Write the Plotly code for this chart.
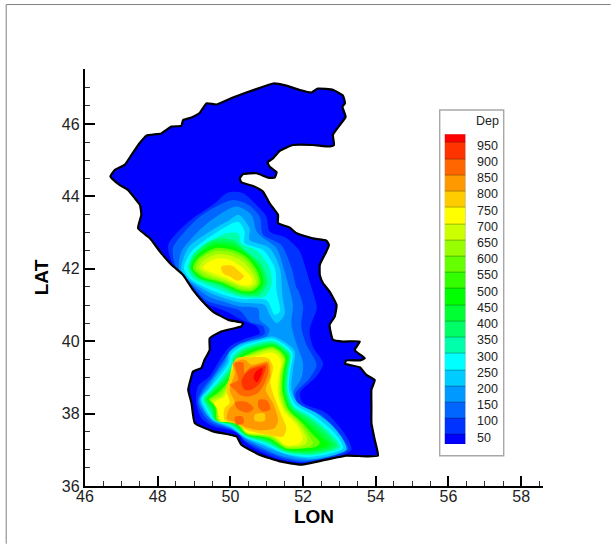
import plotly.graph_objects as go

LEGEND_LEVELS = [50, 100, 150, 200, 250, 300, 350, 400, 450, 500, 550, 600, 650, 700, 750, 800, 850, 900, 950]
BAND_EDGES = [21] + LEGEND_LEVELS + [976]
BAND_COLORS = ["#0000ff", "#0033ff", "#0066ff", "#0099ff", "#00ccff", "#00ffff", "#00ffaa", "#00ff66", "#00ff33",
               "#00ff00", "#33ff00", "#66ff00", "#99ff00", "#ccff00", "#ffff00", "#ffcc00", "#ff9900", "#ff6600",
               "#ff3300", "#ff0000"]
X_TICKS = [46, 48, 50, 52, 54, 56, 58]
Y_TICKS = [36, 38, 40, 42, 44, 46]

COAST = [(46.70,44.55),(46.82,44.73),(47.09,44.87),(47.28,45.15),(47.50,45.47),(47.69,45.68),(48.10,45.74),(48.38,45.93),(48.65,45.95),(48.70,46.11),(48.93,46.18),(49.16,46.31),(49.34,46.57),(49.62,46.54),(50.07,46.73),(50.44,46.87),(50.90,47.03),(51.18,47.12),(51.54,47.06),(51.91,46.94),(52.23,46.87),(52.41,46.98),(52.83,46.94),(53.10,46.78),(53.15,46.57),(53.08,46.48),(53.17,46.20),(53.01,45.97),(52.82,45.70),(52.85,45.42),(52.73,45.38),(52.27,45.42),(51.72,45.42),(51.36,45.26),(51.17,45.05),(51.02,44.94),(51.08,44.82),(51.27,44.67),(51.22,44.52),(51.04,44.52),(50.72,44.64),(50.35,44.62),(50.26,44.50),(50.30,44.39),(50.67,44.27),(50.90,44.13),(51.08,43.81),(51.31,43.49),(51.31,43.26),(51.63,43.14),(51.82,42.98),(52.27,42.84),(52.64,42.78),(52.71,42.66),(52.64,42.48),(52.46,42.11),(52.46,41.83),(52.55,41.60),(52.73,41.37),(52.92,41.00),(52.87,40.68),(52.73,40.45),(52.82,40.04),(53.10,39.99),(53.56,39.99),(53.42,39.76),(53.51,39.67),(53.70,39.53),(53.56,39.47),(53.19,39.47),(53.15,39.38),(53.56,39.28),(53.74,39.07),(53.97,38.93),(53.88,38.66),(53.88,38.20),(53.88,37.74),(53.97,37.28),(54.06,36.84),(53.74,36.82),(53.19,36.84),(52.64,36.73),(51.95,36.59),(51.36,36.68),(50.81,36.86),(50.30,37.14),(50.17,37.37),(49.52,37.51),(49.02,37.74),(48.93,38.29),(48.84,38.66),(48.93,39.03),(48.97,39.16),(49.20,39.26),(49.29,39.49),(49.43,39.76),(49.43,40.08),(49.75,40.27),(50.30,40.41),(50.35,40.50),(49.94,40.59),(49.52,40.82),(49.20,41.14),(48.97,41.42),(48.70,41.83),(48.38,42.11),(48.06,42.48),(47.78,42.85),(47.46,43.12),(47.55,43.49),(47.51,43.77),(47.37,43.95),(47.18,44.18),(46.95,44.32)]

D50 = [(50.03,44.13),(50.35,44.09),(50.67,43.81),(50.99,43.44),(51.08,43.03),(51.54,42.85),(51.91,42.48),(52.04,42.11),(52.18,41.65),(52.37,41.00),(52.37,40.87),(52.18,40.31),(52.27,39.85),(52.55,39.39),(52.37,39.03),(51.91,38.57),(52.00,38.29),(52.64,38.01),(53.19,37.37),(53.33,37.00),(52.92,36.79),(52.00,36.64),(51.36,36.74),(50.81,36.96),(50.39,37.23),(50.21,37.46),(49.52,37.65),(49.20,37.88),(49.06,38.29),(49.11,38.75),(49.43,39.03),(49.71,39.49),(49.98,39.85),(50.44,40.08),(50.81,40.22),(50.72,40.41),(50.30,40.59),(49.89,40.82),(49.52,40.96),(49.23,41.08),(48.72,41.79),(48.42,42.11),(48.29,42.66),(48.61,43.08),(48.97,43.40),(49.52,43.77),(49.89,44.09)]
D100 = [(50.07,43.90),(50.49,43.77),(50.81,43.44),(50.90,42.94),(51.40,42.66),(51.68,42.02),(51.82,41.47),(51.86,41.42),(52.00,40.96),(51.95,40.41),(52.09,39.90),(52.37,39.35),(52.18,38.98),(51.80,38.57),(51.86,38.24),(52.50,37.97),(53.05,37.37),(53.24,37.02),(52.87,36.84),(52.00,36.67),(51.40,36.79),(50.83,37.02),(50.39,37.26),(50.12,37.53),(49.52,37.72),(49.29,37.92),(49.10,38.32),(49.25,38.70),(49.50,39.01),(49.78,39.44),(50.03,39.76),(50.49,40.02),(50.94,40.20),(50.90,40.41),(50.53,40.54),(50.26,40.84),(49.71,41.00),(49.32,41.14),(48.77,41.74),(48.51,42.02),(48.42,42.57),(48.79,43.08),(49.16,43.44),(49.61,43.72)]
D150 = [(50.16,43.72),(50.58,43.49),(50.72,43.03),(50.90,42.85),(51.27,42.57),(51.49,41.93),(51.63,41.42),(51.72,41.00),(51.68,40.45),(51.81,39.95),(52.00,39.39),(51.95,38.98),(51.74,38.61),(51.80,38.24),(52.41,37.94),(52.96,37.42),(53.19,37.02),(52.87,36.86),(52.09,36.71),(51.43,36.82),(50.83,37.08),(50.44,37.28),(50.07,37.55),(49.57,37.76),(49.34,37.97),(49.14,38.35),(49.32,38.70),(49.54,39.01),(49.84,39.44),(49.98,39.72),(50.30,39.95),(50.99,40.13),(51.08,40.33),(50.81,40.59),(50.76,40.90),(50.26,40.96),(49.80,41.10),(49.41,41.23),(48.81,41.69),(48.59,41.97),(48.65,42.47),(49.16,43.08),(49.61,43.44)]

D200N = [(50.23,43.49),(50.53,43.12),(50.53,42.80),(51.08,42.57),(51.36,42.02),(51.43,41.28),(51.49,40.73),(51.27,40.50),(51.08,40.73),(50.94,41.00),(50.26,41.07),(49.48,41.32),(48.83,41.72),(48.65,41.97),(48.83,42.57),(49.43,43.03),(49.98,43.35)]
D250N = [(50.21,43.30),(50.39,43.03),(50.39,42.71),(50.90,42.52),(51.22,42.02),(51.27,41.37),(51.36,40.82),(51.22,40.73),(50.99,41.14),(50.26,41.17),(49.52,41.39),(48.88,41.74),(48.72,42.02),(48.93,42.48),(49.52,42.94)]
D300N = [(50.21,42.98),(50.30,42.71),(50.76,42.48),(51.08,42.02),(51.13,41.56),(50.94,41.23),(50.26,41.23),(49.61,41.46),(48.97,41.74),(48.83,42.02),(49.02,42.43),(49.89,42.98)]
D350N = [(49.52,42.80),(50.07,42.80),(50.42,42.49),(50.85,42.15),(51.01,41.60),(50.81,41.28),(50.30,41.28),(49.66,41.54),(49.05,41.77),(48.88,42.02),(48.97,42.38)]
D400N = [(49.52,42.72),(50.07,42.71),(50.46,42.43),(50.82,42.06),(50.95,41.60),(50.73,41.32),(50.30,41.32),(49.69,41.57),(49.10,41.76),(48.90,42.02),(49.02,42.31)]
D450N = [(49.52,42.66),(50.07,42.61),(50.49,42.38),(50.81,41.97),(50.90,41.60),(50.67,41.35),(50.30,41.35),(49.71,41.60),(49.16,41.74),(48.93,42.02),(49.06,42.34)]
D550N = [(49.57,42.57),(50.07,42.52),(50.46,42.31),(50.75,41.92),(50.82,41.60),(50.62,41.39),(50.30,41.39),(49.75,41.62),(49.21,41.78),(48.97,42.02),(49.11,42.29)]
D600N = [(49.57,42.49),(50.03,42.46),(50.42,42.25),(50.70,41.88),(50.76,41.60),(50.58,41.43),(50.30,41.45),(49.80,41.65),(49.29,41.81),(49.05,42.02),(49.17,42.27)]
D650N = [(49.62,42.40),(49.98,42.37),(50.37,42.18),(50.64,41.83),(50.70,41.60),(50.53,41.48),(50.30,41.51),(49.84,41.69),(49.39,41.85),(49.14,42.02),(49.25,42.22)]
D700N = [(49.66,42.29),(49.98,42.25),(50.30,42.06),(50.58,41.76),(50.60,41.60),(50.46,41.54),(50.26,41.57),(49.89,41.74),(49.52,41.88),(49.25,42.02),(49.34,42.15)]
D750N = [(49.75,42.06),(50.03,42.09),(50.26,41.91),(50.37,41.79),(50.21,41.67),(49.98,41.79),(49.80,41.88)]

D200S = [(51.17,40.13),(51.54,39.95),(51.77,39.72),(51.72,39.21),(51.68,38.66),(51.86,38.29),(52.37,38.01),(52.82,37.65),(53.10,37.28),(53.19,37.00),(52.92,36.88),(52.18,36.75),(51.54,36.86),(50.83,37.14),(50.44,37.31),(50.03,37.60),(49.52,37.80),(49.35,37.98),(49.17,38.40),(49.39,38.70),(49.60,39.01),(49.91,39.44),(49.96,39.67),(50.27,39.90),(50.73,40.04)]
D250S = [(51.17,40.07),(51.50,39.90),(51.71,39.67),(51.65,39.21),(51.61,38.66),(51.80,38.24),(52.27,37.97),(52.73,37.60),(53.01,37.28),(53.10,37.04),(52.87,36.93),(52.18,36.80),(51.54,36.89),(50.90,37.17),(50.44,37.33),(50.03,37.63),(49.54,37.82),(49.39,38.01),(49.21,38.40),(49.43,38.69),(49.66,38.98),(49.96,39.39),(50.01,39.62),(50.29,39.85),(50.73,39.99)]
D300S = [(51.17,40.01),(51.47,39.85),(51.67,39.64),(51.61,39.21),(51.58,38.66),(51.74,38.20),(52.20,37.92),(52.66,37.55),(52.93,37.26),(53.03,37.07),(52.82,36.97),(52.18,36.85),(51.54,36.92),(50.94,37.20),(50.44,37.36),(50.05,37.65),(49.56,37.82),(49.43,38.05),(49.25,38.40),(49.47,38.66),(49.71,38.93),(50.01,39.35),(50.06,39.58),(50.32,39.80),(50.75,39.95)]
D350S = [(51.17,39.96),(51.45,39.82),(51.63,39.61),(51.58,39.21),(51.54,38.66),(51.71,38.18),(52.14,37.89),(52.60,37.52),(52.87,37.23),(52.94,37.11),(52.78,37.00),(52.18,36.89),(51.54,36.95),(50.99,37.23),(50.44,37.38),(50.07,37.67),(49.58,37.82),(49.47,38.09),(49.29,38.40),(49.50,38.64),(49.76,38.92),(50.05,39.30),(50.09,39.53),(50.35,39.76),(50.77,39.90)]
D400S = [(51.17,39.92),(51.43,39.78),(51.60,39.59),(51.54,39.21),(51.50,38.66),(51.67,38.16),(52.07,37.85),(52.50,37.48),(52.78,37.20),(52.84,37.13),(52.71,37.04),(52.18,36.94),(51.54,36.98),(51.02,37.26),(50.44,37.40),(50.09,37.69),(49.60,37.82),(49.50,38.13),(49.33,38.40),(49.52,38.62),(49.80,38.88),(50.07,39.26),(50.13,39.49),(50.37,39.72),(50.79,39.86)]
D450S = [(51.17,39.88),(51.41,39.75),(51.56,39.56),(51.50,39.21),(51.47,38.66),(51.63,38.14),(52.02,37.81),(52.41,37.44),(52.66,37.20),(52.71,37.15),(52.60,37.08),(52.18,36.98),(51.54,37.00),(51.04,37.29),(50.44,37.42),(50.12,37.71),(49.62,37.82),(49.54,38.15),(49.37,38.40),(49.54,38.60),(49.83,38.84),(50.10,39.21),(50.17,39.46),(50.39,39.67),(50.81,39.83)]
D550S = [(51.17,39.85),(51.39,39.72),(51.52,39.52),(51.47,39.21),(51.43,38.66),(51.60,38.12),(51.95,37.78),(52.27,37.42),(52.46,37.20),(52.37,37.09),(52.09,37.04),(51.54,37.03),(51.08,37.31),(50.44,37.44),(50.15,37.73),(49.64,37.81),(49.58,38.18),(49.41,38.40),(49.62,38.55),(49.87,38.80),(50.12,39.17),(50.21,39.43),(50.42,39.62),(50.83,39.78)]
D600S = [(51.17,39.81),(51.37,39.69),(51.49,39.49),(51.43,39.17),(51.40,38.61),(51.56,38.11),(51.91,37.76),(52.18,37.37),(52.27,37.19),(52.14,37.08),(51.54,37.06),(51.11,37.34),(50.44,37.45),(50.18,37.75),(49.66,37.80),(49.62,38.20),(49.45,38.38),(49.69,38.52),(49.91,38.77),(50.00,39.07),(50.07,39.35),(50.26,39.53),(50.46,39.60),(50.84,39.74)]
D650S = [(51.17,39.76),(51.36,39.65),(51.45,39.46),(51.38,39.12),(51.36,38.57),(51.52,38.09),(51.86,37.74),(52.09,37.37),(52.11,37.20),(51.95,37.11),(51.54,37.09),(51.14,37.37),(50.44,37.47),(50.21,37.77),(49.70,37.79),(49.66,38.22),(49.49,38.34),(49.78,38.49),(49.94,38.84),(50.01,39.17),(50.07,39.39),(50.30,39.56),(50.53,39.60),(50.88,39.71)]
D700S = [(51.13,39.69),(51.31,39.60),(51.40,39.41),(51.33,39.07),(51.31,38.52),(51.49,38.06),(51.80,37.72),(51.98,37.39),(51.95,37.20),(51.77,37.13),(51.54,37.12),(51.17,37.40),(50.44,37.49),(50.24,37.79),(49.75,37.80),(49.62,38.15),(49.55,38.30),(49.84,38.47),(49.98,38.80),(50.04,39.12),(50.10,39.36),(50.33,39.52),(50.58,39.56),(50.90,39.65)]
D750S = [(50.17,39.53),(50.58,39.56),(51.04,39.53),(51.17,39.30),(51.10,38.84),(51.22,38.43),(51.40,37.97),(51.54,37.60),(51.45,37.37),(50.99,37.42),(50.62,37.50),(50.44,37.55),(50.21,37.70),(49.84,37.83),(49.84,38.15),(49.98,38.29),(49.89,38.66),(50.03,39.12)]
D800S = [(50.07,39.39),(50.39,39.49),(50.58,39.35),(51.04,39.44),(51.10,39.03),(50.97,38.66),(51.17,38.29),(51.31,37.83),(51.22,37.60),(50.81,37.54),(50.49,37.60),(50.12,37.76),(49.90,37.86),(49.98,38.15),(50.12,38.29),(49.98,38.66),(50.12,39.12)]
D750_PATCH = [(50.67,37.97),(50.94,38.00),(50.94,37.80),(50.67,37.80)]
D850_UPPER = [(50.12,39.39),(50.35,39.41),(50.39,39.12),(50.53,39.26),(50.81,39.35),(51.01,39.39),(51.04,39.12),(50.94,38.84),(50.76,38.57),(50.49,38.47),(50.26,38.52),(50.12,38.66),(49.98,38.80),(50.21,38.93)]
D850_A = [(50.12,38.31),(50.44,38.33),(50.64,38.15),(50.49,38.03),(50.21,38.12)]
D850_B = [(50.79,38.38),(51.01,38.36),(51.10,38.11),(50.88,38.06),(50.76,38.20)]
D850_C = [(50.12,37.90),(50.33,37.92),(50.37,37.74),(50.17,37.70)]
D900 = [(50.39,39.07),(50.53,39.21),(50.81,39.30),(50.97,39.32),(50.90,39.03),(50.81,38.84),(50.58,38.66),(50.39,38.66),(50.30,38.89)]
D950 = [(50.70,39.16),(50.88,39.26),(50.85,39.07),(50.73,38.86),(50.64,38.98)]

CONTOURS = [(50, D50), (100, D100), (150, D150),
            (200, D200N), (250, D250N), (300, D300N), (350, D350N), (400, D400N), (450, D450N),
            (550, D550N), (600, D600N), (650, D650N), (700, D700N), (750, D750N),
            (200, D200S), (250, D250S), (300, D300S), (350, D350S), (400, D400S), (450, D450S),
            (550, D550S), (600, D600S), (650, D650S), (700, D700S), (750, D750S), (800, D800S),
            (750, D750_PATCH), (850, D850_UPPER), (850, D850_A), (850, D850_B), (850, D850_C), (900, D900), (950, D950)]


def color_of(level):
    for i in range(len(BAND_EDGES) - 1):
        if BAND_EDGES[i] <= level < BAND_EDGES[i + 1]:
            return BAND_COLORS[i]
    return BAND_COLORS[-1]


def closed(points):
    pts = list(points) + [points[0]]
    return [p[0] for p in pts], [p[1] for p in pts]


fig = go.Figure()
cx, cy = closed(COAST)
fig.add_trace(go.Scatter(x=cx, y=cy, mode="lines", fill="toself", fillcolor=BAND_COLORS[0],
                         line=dict(width=0), hoverinfo="skip", showlegend=False))
for level, poly in CONTOURS:
    px, py = closed(poly)
    fig.add_trace(go.Scatter(x=px, y=py, mode="lines", fill="toself", fillcolor=color_of(level),
                             line=dict(width=0, shape="spline", smoothing=0.8), hoverinfo="skip", showlegend=False))
fig.add_trace(go.Scatter(x=cx, y=cy, mode="lines", line=dict(color="black", width=2.2, shape="spline", smoothing=0.4),
                         hoverinfo="skip", showlegend=False))

# legend colour column
fig.add_trace(go.Bar(x=[0] * len(BAND_COLORS),
                     y=[BAND_EDGES[i + 1] - BAND_EDGES[i] for i in range(len(BAND_COLORS))],
                     base=BAND_EDGES[:-1], marker=dict(color=BAND_COLORS, line=dict(color="rgba(0,0,0,0.35)", width=0.6)),
                     width=1, xaxis="x2", yaxis="y2", hoverinfo="skip", showlegend=False))

W, H = 611, 544
L, R, T, B = 85.3, 543.3, 69, 486.3
pw, ph = R - L, B - T
fx = lambda p: (p - L) / pw
fy = lambda p: (B - p) / ph

axis_font = dict(family="Liberation Sans, Arial, sans-serif", size=16, color="#222222")
title_font = dict(family="Liberation Sans, Arial, sans-serif", size=19, color="black")
common = dict(showgrid=False, zeroline=False, showline=True, linecolor="black", linewidth=2.4,
              ticks="inside", ticklen=10, tickwidth=2.2, tickcolor="black", tickfont=axis_font,
              minor=dict(ticks="inside", ticklen=5, tickwidth=1, tickcolor="#333333", dtick=0.5))
fig.update_layout(
    width=W, height=H, autosize=False, paper_bgcolor="white", plot_bgcolor="white",
    margin=dict(l=L, r=W - R, t=T, b=H - B, pad=0), showlegend=False, bargap=0,
    xaxis=dict(range=[46, 58.6], tickvals=X_TICKS, ticktext=[str(v) for v in X_TICKS], ticklabelstandoff=-5,
               title=dict(text="<b>LON</b>", font=title_font, standoff=5), **common),
    yaxis=dict(range=[36, 47.52], tickvals=Y_TICKS, ticktext=[str(v) for v in Y_TICKS],
               title=dict(text="<b>LAT</b>", font=title_font, standoff=8), **common),
    xaxis2=dict(domain=[fx(445), fx(466)], range=[-0.5, 0.5], anchor="y2", visible=False),
    yaxis2=dict(domain=[fy(444.3), fy(134.3)], range=[BAND_EDGES[0], BAND_EDGES[-1]], anchor="x2", visible=False),
)
fig.update_layout(shapes=[
    dict(type="rect", xref="paper", yref="paper", x0=fx(440), x1=fx(504), y0=fy(456), y1=fy(110),
         line=dict(color="#a8a8a8", width=1.4), fillcolor="white", layer="below"),
    dict(type="line", xref="paper", yref="paper", x0=fx(6.5), x1=fx(6.5), y0=fy(544), y1=fy(4.5),
         line=dict(color="#808080", width=1)),
    dict(type="line", xref="paper", yref="paper", x0=fx(6.5), x1=fx(611), y0=fy(4.5), y1=fy(4.5),
         line=dict(color="#808080", width=1)),
])
ann = [dict(xref="paper", yref="paper", x=fx(474.5), y=fy(121), text="Dep", showarrow=False, xanchor="left",
            yanchor="middle", font=dict(family="Liberation Sans, Arial, sans-serif", size=12.5, color="#222222"))]
for lv in LEGEND_LEVELS:
    ann.append(dict(xref="paper", yref="y2", x=fx(475), y=lv, yshift=-3, text=str(lv), showarrow=False, xanchor="left",
                    yanchor="middle", font=dict(family="Liberation Sans, Arial, sans-serif", size=12.5, color="#222222")))
fig.update_layout(annotations=ann)

fig.write_html("out.html", config={"displayModeBar": False}, post_script="document.body.style.margin='0';")
